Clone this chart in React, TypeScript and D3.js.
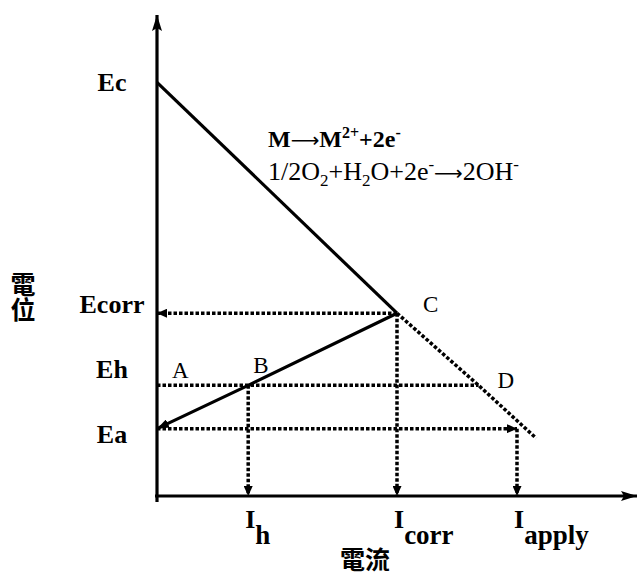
import React from 'react';
import * as d3 from 'd3';

const W = 639;
const H = 576;

// potential levels (arbitrary units, 0 = current axis)
const potentialNames = ['Ec', 'Ecorr', 'Eh', 'Ea'];
const potentialValues = [86, 38, 23, 14];

// current levels on the x axis
const currentNames = ['h', 'corr', 'apply'];
const currentValues = [19, 50, 75];

// cathodic line: Ec -> C solid, then C -> D -> end dotted
const cathodicSolid: [number, number][] = [[0, 86], [50, 38]];
const cathodicDotted: [number, number][] = [[50, 38], [67, 23], [79, 12]];
// anodic line: C -> B -> Ea (arrow at Ea)
const anodic: [number, number][] = [[50, 38], [19, 23], [0, 14]];

// named points
const pointNames = ['A', 'B', 'C', 'D'];
const pointCoords: [number, number][] = [[0, 23], [19, 23], [50, 38], [67, 23]];

// dotted guide lines [from, to, arrow]
const guideFrom: [number, number][] = [[50, 38], [0, 23], [0, 14], [19, 23], [50, 38], [75, 14]];
const guideTo: [number, number][] = [[0, 38], [67, 23], [75, 14], [19, 0], [50, 0], [75, 0]];
const guideArrow = [true, false, true, true, true, true];

const SERIF = '"Liberation Serif", "Times New Roman", serif';
const ARROW = '"DejaVu Sans", sans-serif';
const CJK = '"Noto Sans CJK TC", "Noto Sans CJK JP", sans-serif';

export default function App() {
  const x = d3.scaleLinear().domain([0, 100]).range([157, 637]);
  const y = d3.scaleLinear().domain([0, 100]).range([496, 15]);
  const line = d3.line<[number, number]>().x(d => x(d[0])).y(d => y(d[1]));

  // label nudges so the names sit like the original drawing
  const yLabelShift: Record<string, number> = { Ec: 0, Ecorr: -9, Eh: -16, Ea: 6 };
  const ptShift: Record<string, [number, number]> = {
    A: [15, -7], B: [5, -12], C: [26, -1], D: [19, 3],
  };

  return (
    <svg width={W} height={H} style={{ position: 'absolute', left: 0, top: 0, background: '#fff' }}>
      <defs>
        <marker id="dotArrow" viewBox="0 0 10 9" refX="10" refY="4.5" markerWidth="10" markerHeight="9"
          markerUnits="userSpaceOnUse" orient="auto">
          <path d="M0,0 L10,4.5 L0,9 Z" fill="#000" />
        </marker>
        <marker id="lineArrow" viewBox="0 0 12 9" refX="12" refY="4.5" markerWidth="12" markerHeight="9"
          markerUnits="userSpaceOnUse" orient="auto">
          <path d="M0,0 L12,4.5 L0,9 Z" fill="#000" />
        </marker>
        <marker id="axisArrow" viewBox="0 0 16 10" refX="16" refY="5" markerWidth="16" markerHeight="10"
          markerUnits="userSpaceOnUse" orient="auto">
          <path d="M0,0 L16,5 L0,10 L3,5 Z" fill="#000" />
        </marker>
      </defs>

      {/* axes */}
      <line x1={x(0)} y1={y(0) + 6} x2={x(0)} y2={y(100)} stroke="#000" strokeWidth={3.2} markerEnd="url(#axisArrow)" />
      <line x1={x(0) - 2} y1={y(0)} x2={x(100)} y2={y(0)} stroke="#000" strokeWidth={3.2} markerEnd="url(#axisArrow)" />

      {/* dotted guides */}
      {guideFrom.map((f, i) => (
        <path key={'g' + i} d={line([f, guideTo[i]]) || ''} fill="none" stroke="#000" strokeWidth={3.5}
          strokeDasharray="3.5 2" markerEnd={guideArrow[i] ? 'url(#dotArrow)' : undefined} />
      ))}

      {/* polarisation lines */}
      <path d={line(cathodicSolid) || ''} fill="none" stroke="#000" strokeWidth={3.2} />
      <path d={line(cathodicDotted) || ''} fill="none" stroke="#000" strokeWidth={3.5} strokeDasharray="3.5 2" />
      <path d={line(anodic) || ''} fill="none" stroke="#000" strokeWidth={3.2} markerEnd="url(#lineArrow)" />

      {/* potential labels */}
      {potentialNames.map((n, i) => (
        <text key={n} x={112} y={y(potentialValues[i]) + yLabelShift[n]} dominantBaseline="central"
          textAnchor="middle" fontFamily={SERIF} fontWeight="bold" fontSize={26}>{n}</text>
      ))}

      {/* current labels */}
      {currentNames.map((n, i) => (
        <text key={n} fontFamily={SERIF} fontWeight="bold" fontSize={26}>
          <tspan x={x(currentValues[i]) - 3} y={528}>I</tspan>
          <tspan dy={16} fontSize={27}>{n}</tspan>
        </text>
      ))}

      {/* point labels */}
      {pointNames.map((n, i) => (
        <text key={n} x={x(pointCoords[i][0]) + ptShift[n][0]} y={y(pointCoords[i][1]) + ptShift[n][1]}
          fontFamily={SERIF} fontSize={23}>{n}</text>
      ))}

      {/* reactions */}
      <text x={268} y={147} fontFamily={SERIF} fontWeight="bold" fontSize={24}>
        M<tspan fontFamily={ARROW} fontWeight="normal" fontSize={20}>⟶</tspan>M
        <tspan dy={-9} fontSize={16}>2+</tspan><tspan dy={9}>+2e</tspan><tspan dy={-9} fontSize={16}>-</tspan>
      </text>
      <text x={268} y={180} fontFamily={SERIF} fontSize={26}>
        1/2O<tspan dy={6} fontSize={17}>2</tspan><tspan dy={-6}>+H</tspan><tspan dy={6} fontSize={17}>2</tspan>
        <tspan dy={-6}>O+2e</tspan><tspan dy={-10} fontSize={17}>-</tspan>
        <tspan dy={10} fontFamily={ARROW} fontSize={20}>⟶</tspan><tspan>2OH</tspan>
        <tspan dy={-10} fontSize={17}>-</tspan>
      </text>

      {/* axis titles */}
      <text x={23} y={272} fontFamily={CJK} fontWeight="bold" fontSize={25}
        style={{ writingMode: 'vertical-rl' }}>電位</text>
      <text x={365} y={569} fontFamily={CJK} fontWeight="bold" fontSize={25} textAnchor="middle">電流</text>
    </svg>
  );
}
